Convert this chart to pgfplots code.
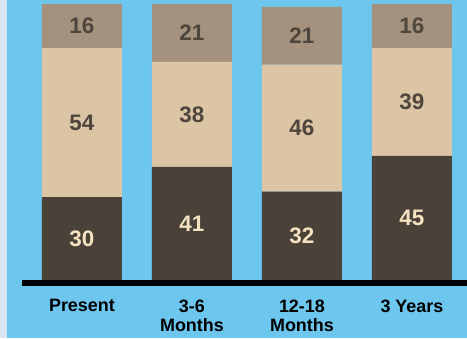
\documentclass[border=0pt]{standalone}
\usepackage{pgfplots}
\pgfplotsset{compat=1.18}
\usepackage{fontspec}
\setmainfont{Liberation Sans}
\definecolor{bg}{RGB}{108,198,238}
\definecolor{strip}{RGB}{220,230,242}
\definecolor{dk}{RGB}{74,66,56}
\definecolor{md}{RGB}{220,197,165}
\definecolor{tp}{RGB}{164,146,126}
\definecolor{numdk}{RGB}{78,70,60}
\definecolor{numlt}{RGB}{245,226,192}
\pgfplotsset{common/.style={at={(22bp,58bp)}, anchor=south west, x=110bp, y=2.76bp,
  xmin=-0.545, xmax=3.5, ymin=0, ymax=100, clip=false}}
\begin{document}
\begin{tikzpicture}[x=1bp,y=1bp]
\useasboundingbox (0,0) rectangle (467,338);
\fill[strip] (0,0) rectangle (467,338);
\fill[bg] (7,0) rectangle (467,338);
\begin{axis}[common, ybar stacked, bar width=80bp,
  axis line style={draw=none}, ytick=\empty,
  xtick={0,1,2,3}, xticklabels={Present, 3-6\\Months, 12-18\\Months, 3 Years},
  xticklabel style={align=center, font=\bfseries\fontsize{18}{19.5}\selectfont, yshift=-16bp},
  major tick length=0pt]
\addplot[fill=dk, draw=none] coordinates {(0,30) (1,41) (2,32) (3,45)};
\addplot[fill=md, draw=none] coordinates {(0,54) (1,38) (2,46) (3,39)};
\addplot[fill=tp, draw=none] coordinates {(0,16) (1,21) (2,21) (3,16)};
\end{axis}
\begin{axis}[common, hide axis]
\addplot[draw=none, nodes near coords, point meta=explicit symbolic,
  every node near coord/.style={anchor=center, text=numlt, font=\bfseries\fontsize{22.5}{22.5}\selectfont}]
  table[meta=l] {
x y l
0 15 30
1 20.5 41
2 16 32
3 22.5 45
};
\addplot[draw=none, nodes near coords, point meta=explicit symbolic,
  every node near coord/.style={anchor=center, text=numdk, font=\bfseries\fontsize{22.5}{22.5}\selectfont}]
  table[meta=l] {
x y l
0 57 54
1 60 38
2 55 46
3 64.5 39
0 92 16
1 89.5 21
2 88.5 21
3 92 16
};
\end{axis}
\fill[black] (22,52) rectangle (467,58);
\end{tikzpicture}
\end{document}
